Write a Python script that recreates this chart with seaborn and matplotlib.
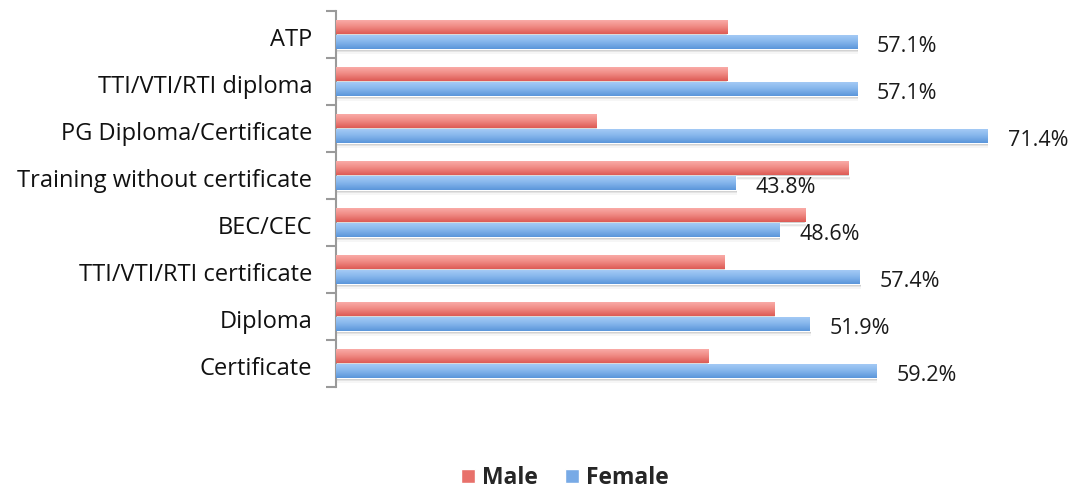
import matplotlib
matplotlib.use("Agg")
import matplotlib.pyplot as plt
import matplotlib.transforms as mtransforms
import seaborn as sns
import numpy as np
import pandas as pd
from matplotlib.colors import LinearSegmentedColormap
from matplotlib.patches import Rectangle

# data
categories = ['ATP', 'TTI/VTI/RTI diploma', 'PG Diploma/Certificate',
              'Training without certificate', 'BEC/CEC',
              'TTI/VTI/RTI certificate', 'Diploma', 'Certificate']
male = [42.9, 42.9, 28.6, 56.2, 51.4, 42.6, 48.1, 40.8]
female = [57.1, 57.1, 71.4, 43.8, 48.6, 57.4, 51.9, 59.2]

df = pd.DataFrame({
    'category': categories * 2,
    'value': male + female,
    'sex': ['Male'] * len(categories) + ['Female'] * len(categories),
})

sns.set_style("white")
plt.rcParams['font.family'] = ['Open Sans', 'DejaVu Sans']

fig = plt.figure(figsize=(10.72, 4.93), dpi=100)
ax = fig.add_axes([336 / 1072, 1 - 387 / 493, 730 / 1072, 376 / 493])

red_mid = '#e8716b'
blue_mid = '#78aae6'
sns.barplot(data=df, y='category', x='value', hue='sex', order=categories,
            hue_order=['Male', 'Female'], palette=[red_mid, blue_mid],
            orient='h', width=0.62, ax=ax, legend=False, errorbar=None)

# gradient fill + soft shadow on each bar
red_cmap = LinearSegmentedColormap.from_list('r', ['#fbb0ac', '#f08a84', '#dd5b55'])
blue_cmap = LinearSegmentedColormap.from_list('b', ['#a8cdf7', '#86b6ec', '#5a96da'])
grad = np.linspace(0, 1, 64).reshape(-1, 1)
n = len(categories)
for i, p in enumerate(ax.patches[:2 * n]):
    x0, y0 = p.get_x(), p.get_y()
    w, h = p.get_width(), p.get_height()
    cmap = red_cmap if i < n else blue_cmap
    for k, a in enumerate([0.12, 0.07, 0.035]):
        ax.add_patch(Rectangle((x0 + 0.1, y0 + h * (0.12 + 0.1 * k)), w, h,
                               color='black', alpha=a, lw=0, zorder=1))
    p.set_zorder(2)
    im = ax.imshow(grad, cmap=cmap, aspect='auto', extent=(x0, x0 + w, y0 + h, y0),
                   zorder=3, interpolation='bilinear')
    im.set_clip_path(p)
    p.set_facecolor('none')
ax.set_xlim(0, 80)
ax.set_ylim(7.5, -0.5)

# value labels on female bars
for i, v in enumerate(female):
    ax.text(v + 2.2, i + 0.25, f'{v}%', va='center', ha='left', fontsize=15.5,
            color='#1a1a1a')

# axes styling
for s in ['top', 'right', 'bottom']:
    ax.spines[s].set_visible(False)
ax.spines['left'].set_color('#9a9a9a')
ax.spines['left'].set_linewidth(1.5)
ax.set_xticks([])
ax.set_xlabel('')
ax.set_ylabel('')
ax.set_yticks(range(n))
ax.set_yticklabels(categories, va='center')
ax.tick_params(axis='y', which='major', left=False, length=0, pad=17, labelsize=17,
               labelcolor='#111111')
shift = mtransforms.ScaledTranslation(0, -4 / 72, fig.dpi_scale_trans)
for lbl in ax.get_yticklabels():
    lbl.set_transform(lbl.get_transform() + shift)
ax.set_yticks(np.arange(-0.5, n, 1), minor=True)
ax.tick_params(axis='y', which='minor', left=True, length=7, width=1.5, color='#9a9a9a')

# legend
handles = [Rectangle((0, 0), 1, 1, facecolor=red_mid),
           Rectangle((0, 0), 1, 1, facecolor=blue_mid)]
fig.legend(handles, ['Male', 'Female'], loc='center', bbox_to_anchor=(565 / 1072, 1 - 478 / 493),
           ncol=2, frameon=False, handlelength=0.6, handleheight=0.6,
           handletextpad=0.3, columnspacing=1.2,
           prop={'weight': 'bold', 'size': 16.5})

fig.savefig('out.png', dpi=100)
